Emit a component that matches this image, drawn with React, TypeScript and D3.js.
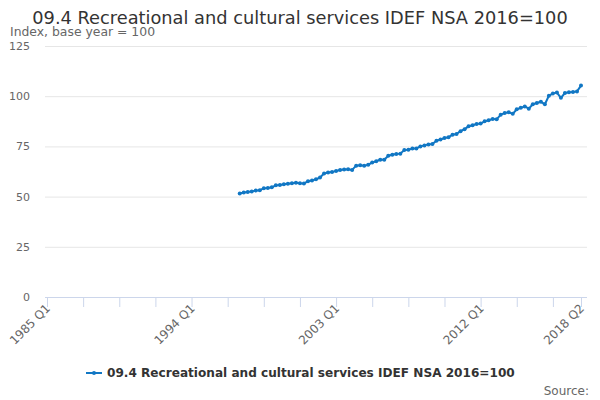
import { useRef, useEffect } from 'react';
import * as d3 from 'd3';

const startYear = 1985;
const quarterCount = 134; // 1985 Q1 .. 2018 Q2
const firstDataIndex = 48; // 1997 Q1

// Index values 1997 Q1 .. 2018 Q2
const indexValues = [
    51.5, 52.0, 52.3, 52.6, 53.0, 53.2, 54.1, 54.3,
    54.6, 55.6, 55.8, 56.2, 56.4, 56.6, 56.9, 56.6,
    56.5, 57.7, 58.0, 58.6, 59.5, 61.5, 62.0, 62.2,
    62.8, 63.2, 63.5, 63.6, 63.3, 65.4, 65.6, 65.4,
    65.8, 67.0, 67.6, 68.4, 68.4, 70.3, 70.8, 71.2,
    71.4, 73.2, 73.3, 73.9, 74.0, 75.0, 75.5, 76.0,
    76.2, 77.8, 78.4, 79.2, 79.6, 80.8, 81.2, 82.6,
    83.6, 85.0, 85.5, 86.2, 86.4, 87.5, 88.0, 88.7,
    88.5, 90.8, 91.6, 92.0, 91.2, 93.5, 94.2, 94.9,
    93.8, 96.0, 96.6, 97.2, 96.0, 100.2, 101.4, 101.8,
    99.2, 101.6, 102.0, 102.1, 102.4, 105.3,
];

const yTicks = [0, 25, 50, 75, 100, 125];
const labelQuarters = ['1985 Q1', '1994 Q1', '2003 Q1', '2012 Q1', '2018 Q2'];

const title = '09.4 Recreational and cultural services IDEF NSA 2016=100';
const seriesName = '09.4 Recreational and cultural services IDEF NSA 2016=100';

const quarters = d3.range(quarterCount).map(i => `${startYear + Math.floor(i / 4)} Q${(i % 4) + 1}`);

interface Point {
    q: string;
    v: number;
}

const points: Point[] = indexValues.map((v, i) => ({ q: quarters[firstDataIndex + i], v }));

export default function App() {
    const svgRef = useRef<SVGSVGElement>(null);

    useEffect(() => {
        if (!svgRef.current) return;
        const width = 600;
        const height = 400;
        const font = '"DejaVu Sans", sans-serif';
        const blue = '#1177c4';

        const svg = d3.select(svgRef.current);
        svg.selectAll('*').remove();
        svg.attr('width', width).attr('height', height).style('font-family', font);

        svg.append('rect').attr('width', width).attr('height', height).attr('fill', '#ffffff');

        const x = d3.scalePoint<string>().domain(quarters).range([47, 581]);
        const y = d3.scaleLinear().domain([0, 125]).range([297, 46]);

        // Title
        svg.append('text')
            .attr('x', 300)
            .attr('y', 24)
            .attr('text-anchor', 'middle')
            .attr('fill', '#333333')
            .style('font-size', '17.8px')
            .text(title);

        svg.append('text')
            .attr('x', 10)
            .attr('y', 36)
            .attr('fill', '#666666')
            .style('font-size', '12.4px')
            .text('Index, base year = 100');

        // Grid lines
        const grid = svg.append('g')
            .attr('transform', 'translate(45,0)')
            .call(d3.axisLeft(y).tickValues(yTicks).tickSize(-(587 - 45)).tickFormat(() => ''));
        grid.select('.domain').remove();
        grid.selectAll('.tick line').attr('stroke', '#e6e6e6');

        // Y labels
        svg.append('g')
            .selectAll('text')
            .data(yTicks)
            .enter()
            .append('text')
            .attr('x', 30)
            .attr('y', d => y(d) + 4)
            .attr('text-anchor', 'end')
            .attr('fill', '#666666')
            .style('font-size', '11px')
            .text(d => d);

        // X axis
        const tickQuarters = quarters.filter((_, i) => i % 9 === 0 || i === quarterCount - 1);
        const xAxis = svg.append('g')
            .attr('transform', 'translate(0,297)')
            .call(d3.axisBottom(x).tickValues(tickQuarters).tickSize(10).tickFormat(() => ''));
        xAxis.select('.domain').attr('stroke', '#ccd6eb').attr('d', 'M45,0.5H587');
        xAxis.selectAll('.tick line').attr('stroke', '#ccd6eb');

        svg.append('g')
            .selectAll('text')
            .data(labelQuarters)
            .enter()
            .append('text')
            .attr('transform', d => `translate(${(x(d) ?? 0) + 4},${309}) rotate(-45)`)
            .attr('text-anchor', 'end')
            .attr('fill', '#666666')
            .style('font-size', '12px')
            .text(d => d);

        // Series
        const line = d3.line<Point>()
            .x(d => x(d.q) ?? 0)
            .y(d => y(d.v));

        svg.append('path')
            .datum(points)
            .attr('fill', 'none')
            .attr('stroke', blue)
            .attr('stroke-width', 2)
            .attr('stroke-linejoin', 'round')
            .attr('d', line);

        svg.append('g')
            .selectAll('circle')
            .data(points)
            .enter()
            .append('circle')
            .attr('cx', d => x(d.q) ?? 0)
            .attr('cy', d => y(d.v))
            .attr('r', 2)
            .attr('fill', blue);

        // Legend
        const legend = svg.append('g').attr('transform', 'translate(86,373)');
        legend.append('line')
            .attr('x1', 0).attr('x2', 16).attr('y1', 0).attr('y2', 0)
            .attr('stroke', blue).attr('stroke-width', 2);
        legend.append('circle').attr('cx', 8).attr('cy', 0).attr('r', 2).attr('fill', blue);
        legend.append('text')
            .attr('x', 21)
            .attr('y', 4)
            .attr('fill', '#333333')
            .style('font-size', '12.1px')
            .style('font-weight', 'bold')
            .text(seriesName);

        svg.append('text')
            .attr('x', 589)
            .attr('y', 395)
            .attr('text-anchor', 'end')
            .attr('fill', '#666666')
            .style('font-size', '12px')
            .text('Source:');
    }, []);

    return (
        <div style={{ position: 'absolute', left: 0, top: 0 }}>
            <svg ref={svgRef}></svg>
        </div>
    );
}
